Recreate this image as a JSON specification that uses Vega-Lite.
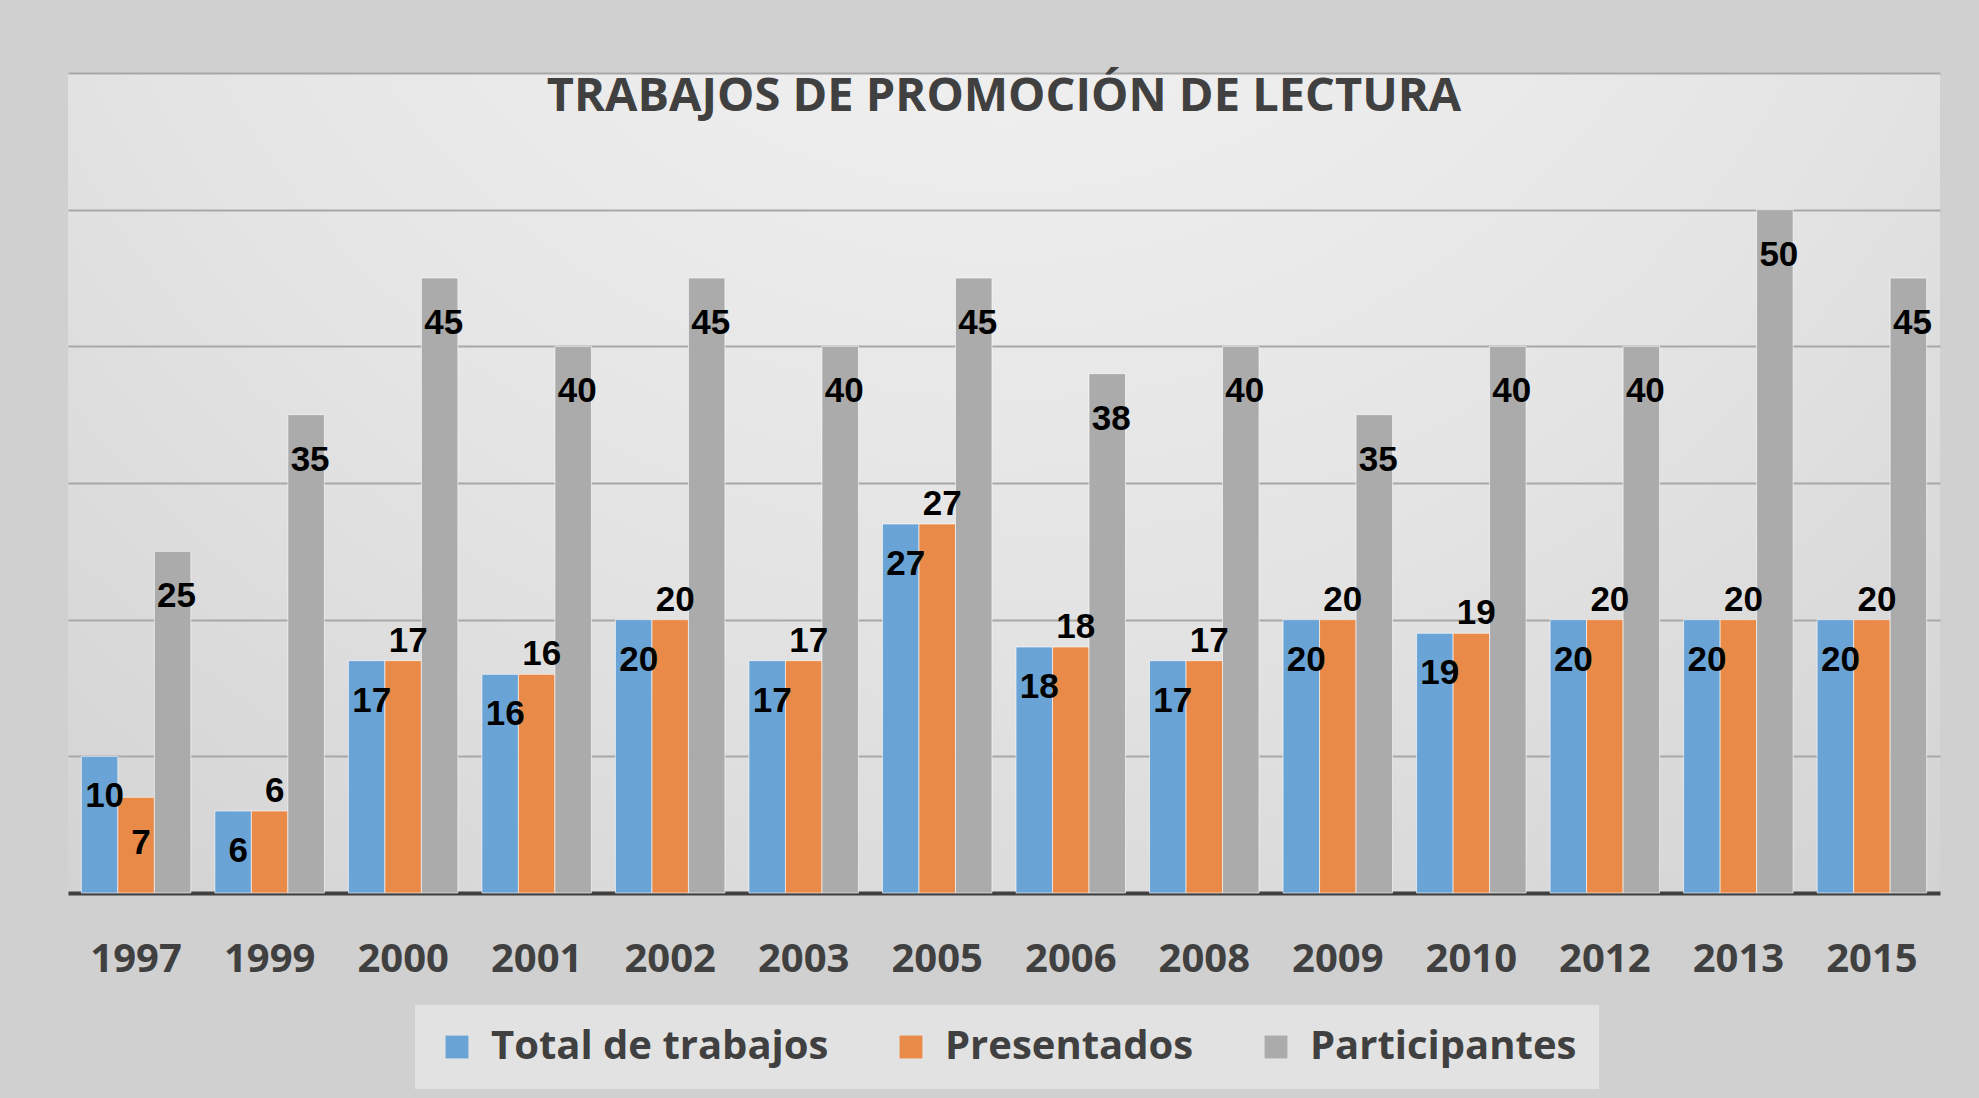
{
  "$schema": "https://vega.github.io/schema/vega-lite/v6.json",
  "width": 1872,
  "height": 820,
  "padding": {"left": 68, "top": 73, "right": 39, "bottom": 10},
  "background": "#d0d0d0",
  "view": {
    "stroke": null,
    "fill": {
      "gradient": "radial",
      "x1": 0.5, "y1": 0.05, "r1": 0,
      "x2": 0.5, "y2": 0.05, "r2": 0.85,
      "stops": [
        {"offset": 0, "color": "#f7f7f7"},
        {"offset": 0.6, "color": "#e4e4e4"},
        {"offset": 1, "color": "#d2d2d2"}
      ]
    }
  },
  "title": {
    "text": "TRABAJOS DE PROMOCIÓN DE LECTURA",
    "font": "Open Sans",
    "fontSize": 47,
    "fontWeight": "bold",
    "color": "#404040",
    "anchor": "middle",
    "baseline": "middle",
    "offset": -22,
    "dy": 49
  },
  "data": {
    "values": [
      {"year": "1997", "serie": "Total de trabajos", "value": 10},
      {"year": "1997", "serie": "Presentados", "value": 7},
      {"year": "1997", "serie": "Participantes", "value": 25},
      {"year": "1999", "serie": "Total de trabajos", "value": 6},
      {"year": "1999", "serie": "Presentados", "value": 6},
      {"year": "1999", "serie": "Participantes", "value": 35},
      {"year": "2000", "serie": "Total de trabajos", "value": 17},
      {"year": "2000", "serie": "Presentados", "value": 17},
      {"year": "2000", "serie": "Participantes", "value": 45},
      {"year": "2001", "serie": "Total de trabajos", "value": 16},
      {"year": "2001", "serie": "Presentados", "value": 16},
      {"year": "2001", "serie": "Participantes", "value": 40},
      {"year": "2002", "serie": "Total de trabajos", "value": 20},
      {"year": "2002", "serie": "Presentados", "value": 20},
      {"year": "2002", "serie": "Participantes", "value": 45},
      {"year": "2003", "serie": "Total de trabajos", "value": 17},
      {"year": "2003", "serie": "Presentados", "value": 17},
      {"year": "2003", "serie": "Participantes", "value": 40},
      {"year": "2005", "serie": "Total de trabajos", "value": 27},
      {"year": "2005", "serie": "Presentados", "value": 27},
      {"year": "2005", "serie": "Participantes", "value": 45},
      {"year": "2006", "serie": "Total de trabajos", "value": 18},
      {"year": "2006", "serie": "Presentados", "value": 18},
      {"year": "2006", "serie": "Participantes", "value": 38},
      {"year": "2008", "serie": "Total de trabajos", "value": 17},
      {"year": "2008", "serie": "Presentados", "value": 17},
      {"year": "2008", "serie": "Participantes", "value": 40},
      {"year": "2009", "serie": "Total de trabajos", "value": 20},
      {"year": "2009", "serie": "Presentados", "value": 20},
      {"year": "2009", "serie": "Participantes", "value": 35},
      {"year": "2010", "serie": "Total de trabajos", "value": 19},
      {"year": "2010", "serie": "Presentados", "value": 19},
      {"year": "2010", "serie": "Participantes", "value": 40},
      {"year": "2012", "serie": "Total de trabajos", "value": 20},
      {"year": "2012", "serie": "Presentados", "value": 20},
      {"year": "2012", "serie": "Participantes", "value": 40},
      {"year": "2013", "serie": "Total de trabajos", "value": 20},
      {"year": "2013", "serie": "Presentados", "value": 20},
      {"year": "2013", "serie": "Participantes", "value": 50},
      {"year": "2015", "serie": "Total de trabajos", "value": 20},
      {"year": "2015", "serie": "Presentados", "value": 20},
      {"year": "2015", "serie": "Participantes", "value": 45}
    ]
  },
  "encoding": {
    "x": {
      "field": "year",
      "type": "nominal",
      "sort": null,
      "scale": {"paddingInner": 0.18, "paddingOuter": 0.1},
      "axis": {
        "title": null,
        "labelAngle": 0,
        "labelFont": "Open Sans",
        "labelFontSize": 40,
        "labelFontWeight": "bold",
        "labelColor": "#404040",
        "labelPadding": 46,
        "ticks": false,
        "domainColor": "#404040",
        "domainWidth": 4,
        "grid": false
      }
    },
    "xOffset": {
      "field": "serie",
      "type": "nominal",
      "sort": ["Total de trabajos", "Presentados", "Participantes"],
      "scale": {"paddingInner": 0, "paddingOuter": 0}
    },
    "y": {
      "field": "value",
      "type": "quantitative",
      "scale": {"domain": [0, 60], "nice": false},
      "axis": {
        "values": [10, 20, 30, 40, 50, 60],
        "labels": false,
        "ticks": false,
        "domain": false,
        "title": null,
        "grid": true,
        "gridColor": "#a8a8a8",
        "gridWidth": 2
      }
    }
  },
  "layer": [
    {
      "mark": {"type": "bar", "stroke": "#ffffff", "strokeWidth": 1, "strokeOpacity": 0.6},
      "encoding": {
        "color": {
          "field": "serie",
          "type": "nominal",
          "sort": ["Total de trabajos", "Presentados", "Participantes"],
          "scale": {
            "domain": ["Total de trabajos", "Presentados", "Participantes"],
            "range": ["#6aa3d6", "#ea8a48", "#ababab"]
          },
          "legend": {
            "title": null,
            "orient": "none",
            "legendX": 347,
            "legendY": 932,
            "direction": "horizontal",
            "symbolType": "square",
            "symbolSize": 520,
            "symbolStrokeWidth": 0,
            "symbolOpacity": 1,
            "labelFont": "Open Sans",
            "labelFontSize": 40,
            "labelFontWeight": "bold",
            "labelColor": "#404040",
            "labelLimit": 600,
            "labelOffset": 14,
            "columnPadding": 62,
            "padding": 22,
            "fillColor": "#e2e2e2"
          }
        }
      }
    },
    {
      "transform": [{"filter": "datum.serie == 'Total de trabajos'"}],
      "mark": {"type": "text", "font": "Liberation Sans", "fontSize": 35, "fontWeight": "bold", "color": "#000000", "baseline": "middle", "dy": 40, "dx": 5},
      "encoding": {"text": {"field": "value", "type": "quantitative"}}
    },
    {
      "transform": [{"filter": "datum.serie == 'Presentados' && datum.year != '1997'"}],
      "mark": {"type": "text", "font": "Liberation Sans", "fontSize": 35, "fontWeight": "bold", "color": "#000000", "baseline": "middle", "dy": -20, "dx": 5},
      "encoding": {"text": {"field": "value", "type": "quantitative"}}
    },
    {
      "transform": [{"filter": "datum.serie == 'Presentados' && datum.year == '1997'"}],
      "mark": {"type": "text", "font": "Liberation Sans", "fontSize": 35, "fontWeight": "bold", "color": "#000000", "baseline": "middle", "dy": 46, "dx": 5},
      "encoding": {"text": {"field": "value", "type": "quantitative"}}
    },
    {
      "transform": [{"filter": "datum.serie == 'Participantes'"}],
      "mark": {"type": "text", "font": "Liberation Sans", "fontSize": 35, "fontWeight": "bold", "color": "#000000", "baseline": "middle", "dy": 45, "dx": 4},
      "encoding": {"text": {"field": "value", "type": "quantitative"}}
    }
  ]
}
